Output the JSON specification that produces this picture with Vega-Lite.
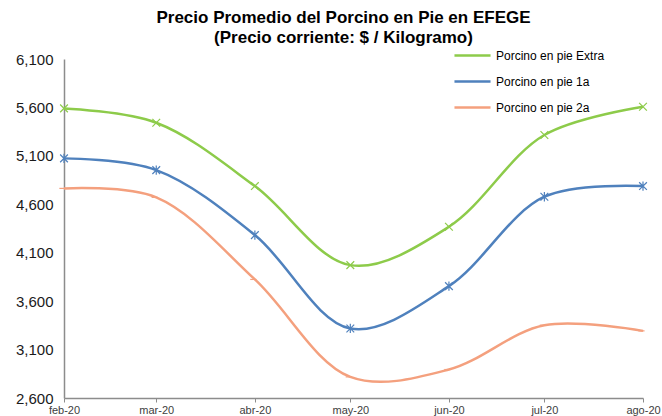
{
  "$schema": "https://vega.github.io/schema/vega-lite/v6.json",
  "width": 579,
  "height": 339,
  "autosize": {"type": "none"},
  "padding": {"left": 64, "top": 59, "right": 19, "bottom": 18},
  "background": "white",
  "config": {
    "view": {"stroke": null},
    "font": "Liberation Sans"
  },
  "title": {
    "text": ["Precio Promedio del Porcino en Pie en EFEGE", "(Precio corriente: $ / Kilogramo)"],
    "font": "Liberation Sans",
    "fontSize": 17,
    "fontWeight": "bold",
    "color": "#000000",
    "lineHeight": 20,
    "offset": -11,
    "dx": -10,
    "anchor": "middle"
  },
  "data": {
    "values": [
      {"mes": "2020-02-01", "serie": "Porcino en pie Extra", "precio": 5590},
      {"mes": "2020-03-01", "serie": "Porcino en pie Extra", "precio": 5442},
      {"mes": "2020-04-01", "serie": "Porcino en pie Extra", "precio": 4788},
      {"mes": "2020-05-01", "serie": "Porcino en pie Extra", "precio": 3972},
      {"mes": "2020-06-01", "serie": "Porcino en pie Extra", "precio": 4368},
      {"mes": "2020-07-01", "serie": "Porcino en pie Extra", "precio": 5315},
      {"mes": "2020-08-01", "serie": "Porcino en pie Extra", "precio": 5607},
      {"mes": "2020-02-01", "serie": "Porcino en pie 1a", "precio": 5074},
      {"mes": "2020-03-01", "serie": "Porcino en pie 1a", "precio": 4953},
      {"mes": "2020-04-01", "serie": "Porcino en pie 1a", "precio": 4282},
      {"mes": "2020-05-01", "serie": "Porcino en pie 1a", "precio": 3318},
      {"mes": "2020-06-01", "serie": "Porcino en pie 1a", "precio": 3755},
      {"mes": "2020-07-01", "serie": "Porcino en pie 1a", "precio": 4678},
      {"mes": "2020-08-01", "serie": "Porcino en pie 1a", "precio": 4788},
      {"mes": "2020-02-01", "serie": "Porcino en pie 2a", "precio": 4764},
      {"mes": "2020-03-01", "serie": "Porcino en pie 2a", "precio": 4671},
      {"mes": "2020-04-01", "serie": "Porcino en pie 2a", "precio": 3824},
      {"mes": "2020-05-01", "serie": "Porcino en pie 2a", "precio": 2818},
      {"mes": "2020-06-01", "serie": "Porcino en pie 2a", "precio": 2894},
      {"mes": "2020-07-01", "serie": "Porcino en pie 2a", "precio": 3352},
      {"mes": "2020-08-01", "serie": "Porcino en pie 2a", "precio": 3293}
    ]
  },
  "encoding": {
    "x": {
      "field": "mes",
      "type": "temporal",
      "scale": {"type": "utc", "nice": false},
      "axis": {
        "title": null,
        "tickCount": {"interval": "month", "step": 1},
        "labelExpr": "['ene','feb','mar','abr','may','jun','jul','ago','sep','oct','nov','dic'][utcmonth(datum.value)] + '-' + utcFormat(datum.value, '%y')",
        "labelFontSize": 11,
        "labelColor": "#404040",
        "labelPadding": 2,
        "labelFlush": false,
        "labelOverlap": false,
        "domainColor": "#8C8C8C",
        "domainWidth": 1.5,
        "tickColor": "#8C8C8C",
        "tickSize": 4,
        "grid": false
      }
    },
    "y": {
      "field": "precio",
      "type": "quantitative",
      "scale": {"domain": [2600, 6100], "nice": false, "zero": false},
      "axis": {
        "title": null,
        "values": [2600, 3100, 3600, 4100, 4600, 5100, 5600, 6100],
        "format": ",.0f",
        "labelFontSize": 15,
        "labelColor": "#1a1a1a",
        "labelPadding": 11,
        "ticks": false,
        "domainColor": "#8C8C8C",
        "domainWidth": 1.5,
        "grid": false
      }
    }
  },
  "resolve": {"legend": {"color": "independent"}},
  "layer": [
    {
      "mark": {"type": "line", "interpolate": "catmull-rom", "strokeWidth": 2.5},
      "encoding": {
        "color": {
          "field": "serie",
          "type": "nominal",
          "scale": {
            "domain": ["Porcino en pie Extra", "Porcino en pie 1a", "Porcino en pie 2a"],
            "range": ["#8DCB4A", "#4F81BD", "#F4A07E"]
          },
          "legend": {
            "title": null,
            "orient": "none",
            "legendX": 389,
            "legendY": -23,
            "symbolType": "stroke",
            "symbolSize": 1300,
            "symbolStrokeWidth": 2.5,
            "labelFontSize": 12,
            "labelColor": "#000000",
            "labelOffset": 4,
            "rowPadding": -13
          }
        }
      }
    },
    {
      "mark": {"type": "point", "filled": false, "size": 60, "strokeWidth": 1.2, "opacity": 1},
      "encoding": {
        "color": {
          "field": "serie",
          "type": "nominal",
          "legend": null
        },
        "shape": {
          "field": "serie",
          "type": "nominal",
          "scale": {
            "domain": ["Porcino en pie Extra", "Porcino en pie 1a", "Porcino en pie 2a"],
            "range": ["M-1,-1L1,1M-1,1L1,-1", "M-1,-1L1,1M-1,1L1,-1M0,-1.2L0,1.2", "M-1.2,0L0.4,0"]
          },
          "legend": null
        }
      }
    }
  ]
}
